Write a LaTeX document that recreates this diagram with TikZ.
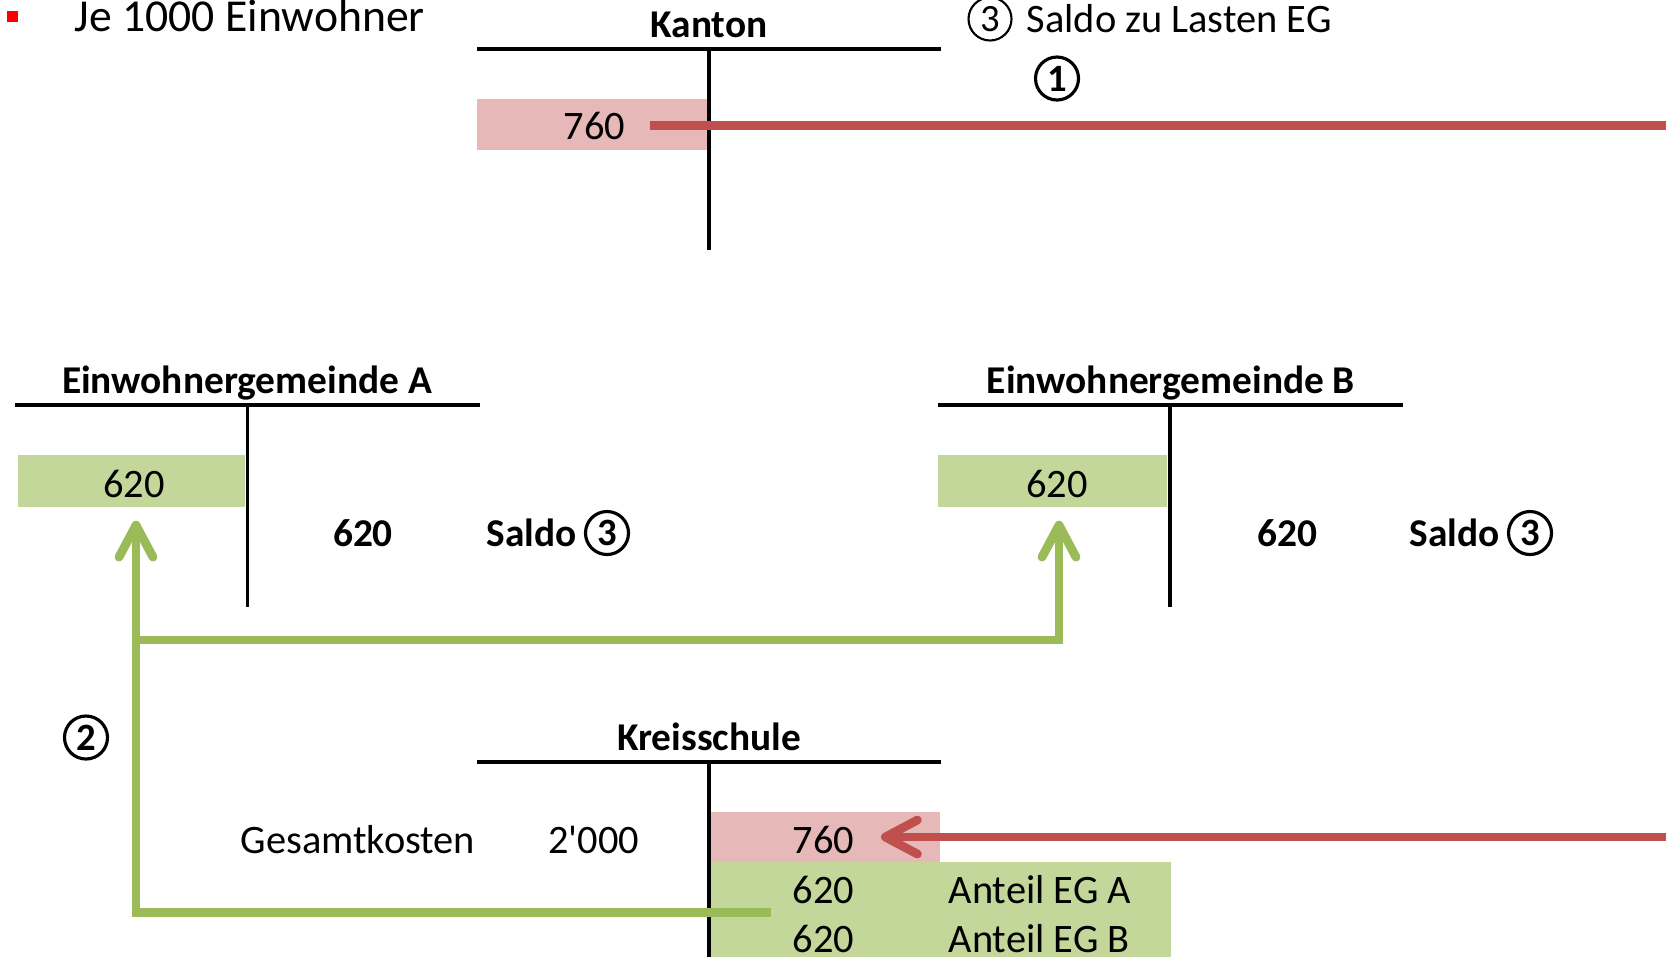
\documentclass[tikz,border=0pt]{standalone}
\usepackage{fontspec}
\setmainfont{Carlito}
\usepackage{tikz}
\usetikzlibrary{positioning,arrows.meta}

\definecolor{flowred}{RGB}{192,80,77}
\definecolor{boxred}{RGB}{230,184,183}
\definecolor{flowgreen}{RGB}{155,187,89}
\definecolor{boxgreen}{RGB}{196,215,155}

\begin{document}
\begin{tikzpicture}[
      every node/.style={
        inner sep=0pt,
        font=\fontsize{11.5}{14}\selectfont
      },
      title/.style={anchor=base, font=\fontsize{11.2}{13}\selectfont\bfseries},
      tline/.style={line width=1pt},
      redbox/.style={fill=boxred, minimum height=0.51cm},
      greenbox/.style={fill=boxgreen, minimum height=0.52cm},
      amount/.style={anchor=base east},
      bold/.style={anchor=base, font=\fontsize{11.2}{13}\selectfont\bfseries},
      circnum/.style={draw, circle, line width=0.9pt, minimum size=0.43cm,
        font=\fontsize{11}{13}\selectfont\bfseries},
      flow/.style={line width=2.5pt,
        -{Straight Barb[length=3.2mm,width=3.4mm,line cap=round,line join=round]}},
      >={Stealth} % arrow tip
    ]
    \useasboundingbox (0,0) rectangle (16.66,-9.57);

    % Heading
    \node (bullet) [fill=red, minimum width=0.11cm, minimum height=0.11cm] at (0.125,-0.165) {};
    \node (intro) [anchor=base west, font=\fontsize{13}{15}\selectfont] at (0.74,-0.31) {Je 1000 Einwohner};
    \node (c3top) [circnum, line width=0.6pt, font=\fontsize{11}{13}\selectfont] at (9.90,-0.19) {3};
    \node (legend) [anchor=base west] at (10.26,-0.32) {Saldo zu Lasten EG};
    \node (c1) [circnum] at (10.57,-0.785) {1};

    % Kanton
    \node (kanton) [title] at (7.09,-0.37) {Kanton};
    \node (kbox) [redbox, minimum width=2.31cm] at (5.925,-1.24) {};
    \node (k760) [amount] at (6.26,-1.39) {760};
    \draw[tline] (4.77,-0.49) -- (9.41,-0.49);
    \draw[tline] (7.09,-0.49) -- (7.09,-2.50);

    % Einwohnergemeinde A
    \node (ega) [title] at (2.47,-3.93) {Einwohnergemeinde A};
    \node (abox) [greenbox, minimum width=2.27cm] at (1.315,-4.81) {};
    \node (a620) [anchor=base] at (1.34,-4.97) {620};
    \node (asum) [bold] at (3.63,-5.46) {620};
    \node (asaldo) [anchor=base west, font=\fontsize{11.2}{13}\selectfont\bfseries] at (4.86,-5.46) {Saldo};
    \node (ac3) [circnum] at (6.07,-5.33) {3};
    \draw[tline] (0.15,-4.05) -- (4.80,-4.05);
    \draw[tline] (2.475,-4.05) -- (2.475,-6.07);

    % Einwohnergemeinde B
    \node (egb) [title] at (11.71,-3.93) {Einwohnergemeinde B};
    \node (bbox) [greenbox, minimum width=2.29cm] at (10.525,-4.81) {};
    \node (b620) [anchor=base] at (10.57,-4.97) {620};
    \node (bsum) [bold] at (12.87,-5.46) {620};
    \node (bsaldo) [anchor=base west, font=\fontsize{11.2}{13}\selectfont\bfseries] at (14.09,-5.46) {Saldo};
    \node (bc3) [circnum] at (15.30,-5.33) {3};
    \draw[tline] (9.38,-4.05) -- (14.03,-4.05);
    \draw[tline] (11.70,-4.05) -- (11.70,-6.07);

    % Kreisschule
    \node (kreis) [title] at (7.09,-7.50) {Kreisschule};
    \node (sbox) [redbox, minimum width=2.30cm, minimum height=0.50cm] at (8.25,-8.37) {};
    \node (gbox) [greenbox, minimum width=4.61cm, minimum height=0.95cm] at (9.405,-9.095) {};
    \node (total) [anchor=base west] at (2.40,-8.53) {Gesamtkosten};
    \node (t2000) [amount] at (6.40,-8.53) {2\textquotesingle 000};
    \node (s760) [amount] at (8.55,-8.53) {760};
    \node (s620a) [amount] at (8.55,-9.03) {620};
    \node (s620b) [amount] at (8.55,-9.52) {620};
    \node (shareA) [anchor=base west] at (9.48,-9.03) {Anteil EG A};
    \node (shareB) [anchor=base west] at (9.48,-9.52) {Anteil EG B};
    \node (c2) [circnum] at (0.86,-7.375) {2};
    \draw[tline] (4.77,-7.62) -- (9.41,-7.62);
    \draw[tline] (7.09,-7.62) -- (7.09,-9.57);

    % Flows
    \coordinate (redin) at (16.66,-1.255);
    \coordinate (redout) at (16.66,-8.37);
    \coordinate (gstart) at (7.71,-9.125);
    \coordinate (gsplit) at (1.36,-6.40);
    \draw[line width=2.5pt, flowred] ([xshift=2.4mm]k760.east |- redin) -- (redin);
    \draw[flow, flowred] (redout) -- ([xshift=2.6mm]s760.east |- redout);
    \draw[flow, flowgreen] (gstart) -| ([yshift=-1.3mm]abox.south -| gsplit);
    \draw[flow, flowgreen] (gsplit) -| ([yshift=-1.3mm]bbox.south -| 10.59,0);
  \end{tikzpicture}
\end{document}
